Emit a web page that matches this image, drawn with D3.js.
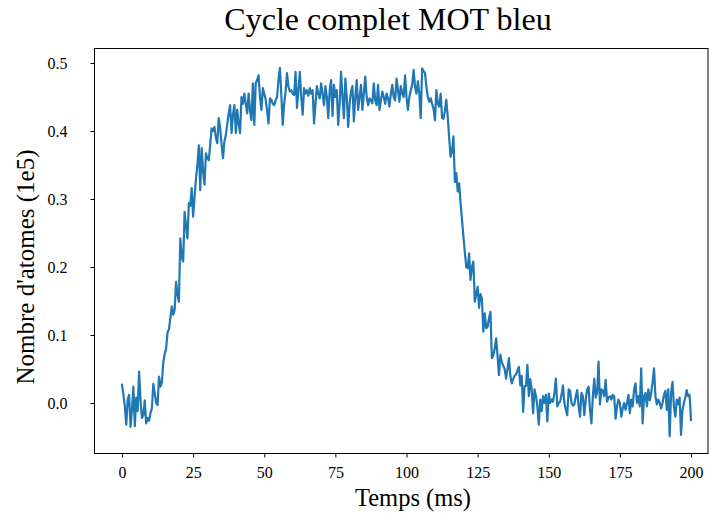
<!DOCTYPE html>
<html><head><meta charset="utf-8">
<script src="https://cdn.jsdelivr.net/npm/d3@7"></script>
<style>body{margin:0;background:#fff}svg{display:block}text{font-family:"Liberation Serif","Times New Roman",serif}</style>
</head><body><svg id="c" width="709" height="520"></svg>
<script>
const title = "Cycle complet MOT bleu";
const xLabel = "Temps (ms)";
const yLabel = "Nombre d'atomes (1e5)";
const xTicks = [0, 25, 50, 75, 100, 125, 150, 175, 200];
const yTicks = [0.0, 0.1, 0.2, 0.3, 0.4, 0.5];
const tStep = 0.5; // ms between samples
const atoms = [
 0.027,0.012,-0.005,-0.032,0.005,0.012,-0.035,-0.010,0.024,-0.034,0.008,-0.012,0.046,0.005,-0.022,-0.018,0.004,-0.030,-0.022,-0.026,-0.015,
 -0.008,0.028,0.015,0.000,-0.003,0.039,0.024,0.030,0.059,0.072,0.080,0.104,0.108,0.125,0.142,0.130,0.137,0.178,0.160,0.149,
 0.242,0.215,0.208,0.281,0.260,0.242,0.294,0.290,0.316,0.274,0.303,0.330,0.350,0.379,0.313,0.375,0.340,0.321,0.367,0.360,
 0.357,0.380,0.404,0.400,0.406,0.390,0.382,0.419,0.405,0.380,0.360,0.385,0.394,0.410,0.426,0.438,0.397,0.424,0.438,0.397,
 0.431,0.410,0.397,0.450,0.440,0.455,0.440,0.426,0.455,0.430,0.416,0.470,0.409,0.470,0.475,0.482,0.450,0.431,0.463,0.455,
 0.446,0.430,0.411,0.448,0.446,0.440,0.438,0.445,0.450,0.475,0.493,0.453,0.409,0.440,0.458,0.485,0.465,0.458,0.460,0.455,
 0.453,0.487,0.434,0.460,0.487,0.450,0.424,0.463,0.455,0.460,0.452,0.463,0.455,0.460,0.411,0.440,0.466,0.455,0.448,0.470,
 0.455,0.438,0.466,0.450,0.419,0.460,0.475,0.422,0.468,0.450,0.460,0.409,0.440,0.487,0.450,0.419,0.477,0.450,0.406,0.440,
 0.458,0.466,0.414,0.450,0.475,0.431,0.450,0.468,0.431,0.455,0.480,0.450,0.438,0.448,0.445,0.441,0.470,0.445,0.438,0.468,
 0.431,0.445,0.458,0.450,0.440,0.455,0.448,0.436,0.455,0.468,0.450,0.445,0.477,0.460,0.443,0.466,0.455,0.450,0.482,0.450,
 0.431,0.450,0.460,0.468,0.490,0.465,0.455,0.473,0.455,0.419,0.492,0.488,0.485,0.465,0.450,0.443,0.448,0.440,0.433,0.416,
 0.460,0.440,0.436,0.455,0.419,0.418,0.430,0.446,0.420,0.390,0.362,0.370,0.392,0.325,0.338,0.311,0.323,0.294,0.270,0.245,
 0.222,0.200,0.198,0.220,0.181,0.200,0.208,0.149,0.160,0.171,0.140,0.160,0.154,0.105,0.132,0.110,0.112,0.125,0.134,0.066,
 0.070,0.080,0.095,0.070,0.041,0.071,0.060,0.055,0.050,0.036,0.050,0.066,0.040,0.029,0.035,0.040,0.042,0.048,0.053,0.026,
 0.040,-0.013,0.025,0.025,0.056,0.010,0.035,0.020,-0.015,0.020,0.010,-0.005,-0.032,0.005,-0.012,0.010,0.000,0.012,-0.027,0.014,
 0.000,0.005,0.002,0.015,0.036,-0.005,0.000,0.002,0.012,0.026,0.000,-0.010,-0.018,0.020,0.018,0.000,-0.004,-0.002,0.010,0.019,
 -0.005,-0.020,0.015,0.010,-0.018,0.005,0.020,0.024,-0.010,-0.030,0.010,0.036,0.008,0.015,0.061,-0.002,0.020,0.018,0.010,0.034,
 0.002,0.008,0.010,0.005,0.012,0.010,-0.023,-0.005,0.005,0.000,-0.020,-0.008,0.000,-0.010,0.000,0.012,-0.015,0.005,-0.005,0.020,
 0.029,0.000,0.010,-0.005,0.051,-0.030,0.010,0.015,-0.005,0.020,0.004,0.015,0.030,0.051,0.010,-0.002,0.005,0.000,-0.008,0.000,
 0.012,0.018,-0.010,0.020,-0.049,0.015,0.031,-0.005,-0.020,0.005,-0.002,0.008,-0.047,-0.010,0.000,0.008,0.019,0.010,0.012,-0.025
];
const data = atoms.map((v, i) => ({t: i * tStep, v}));

const svg = d3.select("#c");
const L = 94.5, R = 708, T = 48.5, B = 453.5;
const x = d3.scaleLinear().domain([0, 200]).range([122, 691]);
const y = d3.scaleLinear().domain([0, 0.5]).range([403, 63]);

svg.append("path").datum(data)
  .attr("fill", "none").attr("stroke", "#1f77b4").attr("stroke-width", 2.2)
  .attr("stroke-linejoin", "round").attr("stroke-linecap", "square")
  .attr("d", d3.line().x(d => x(d.t)).y(d => y(d.v)));

svg.append("rect").attr("x", L).attr("y", T).attr("width", R - L).attr("height", B - T)
  .attr("fill", "none").attr("stroke", "#000").attr("stroke-width", 1);

const xa = svg.append("g").attr("transform", `translate(0,${B})`)
  .call(d3.axisBottom(x).tickValues(xTicks).tickSize(4).tickPadding(9).tickFormat(d3.format("d")));
const ya = svg.append("g").attr("transform", `translate(${L},0)`)
  .call(d3.axisLeft(y).tickValues(yTicks).tickSize(4).tickPadding(23).tickFormat(d3.format(".1f")));
[xa, ya].forEach(g => {
  g.select(".domain").remove();
  g.selectAll("line").attr("stroke", "#000").attr("stroke-width", 1);
  g.selectAll("text").attr("fill", "#000").style("font-size", "16px").style("font-family", '"Liberation Serif",serif');
});

svg.append("text").attr("x", 388).attr("y", 30).attr("text-anchor", "middle")
  .style("font-size", "32px").text(title);
svg.append("text").attr("x", 413).attr("y", 506).attr("text-anchor", "middle")
  .style("font-size", "24.5px").text(xLabel);
svg.append("text").attr("transform", "translate(34,267) rotate(-90)").attr("text-anchor", "middle")
  .style("font-size", "25px").text(yLabel);
</script></body></html>
